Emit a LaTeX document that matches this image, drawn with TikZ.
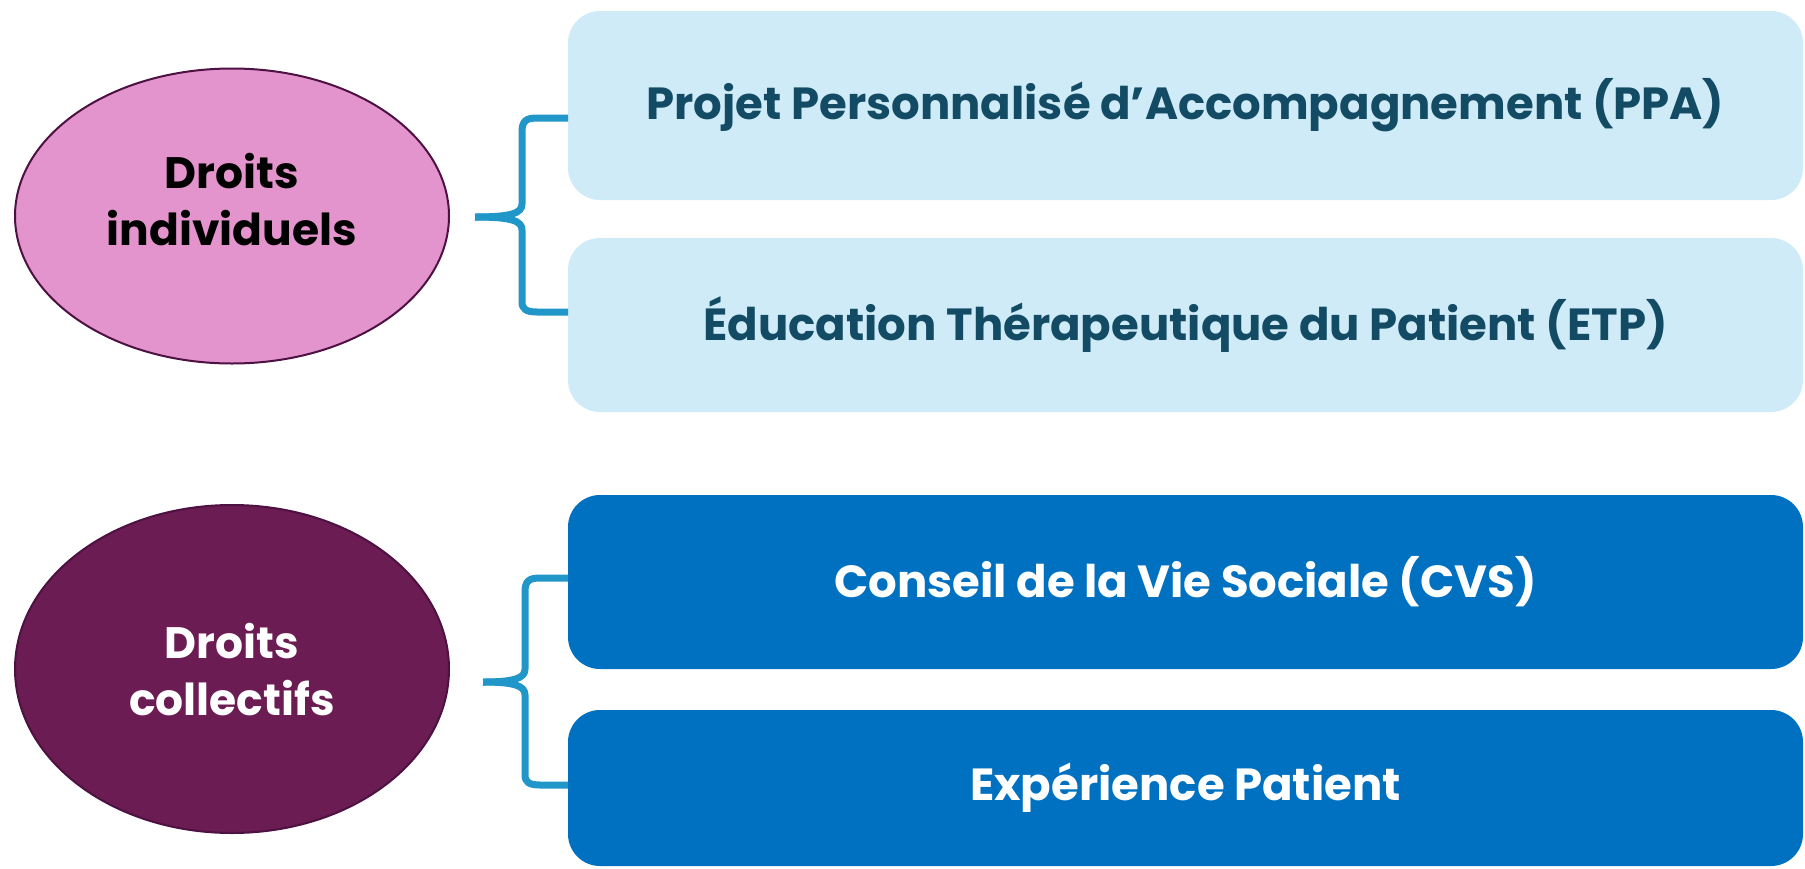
\documentclass[tikz,border=0pt]{standalone}
\usepackage{fontspec}
\setmainfont{Poppins}
\usetikzlibrary{shapes.geometric}
\definecolor{rose}{HTML}{E394CC}
\definecolor{prune}{HTML}{6B1C52}
\definecolor{bord}{HTML}{4D1142}
\definecolor{ciel}{HTML}{CFEBF7}
\definecolor{encre}{HTML}{134B65}
\definecolor{bleu}{HTML}{0070C0}
\definecolor{accol}{HTML}{2097C8}
\tikzset{
  droit/.style={ellipse,draw=bord,line width=2pt,minimum width=434pt,inner sep=0pt},
  titre/.style={align=center,font=\fontsize{44}{57}\selectfont\bfseries},
  volet/.style={rounded corners=32pt,minimum width=1235pt,inner sep=0pt,font=\fontsize{45}{58}\selectfont\bfseries},
  accolade/.style={draw=accol,line width=7pt,line join=round}
}

\begin{document}
\begin{tikzpicture}[x=1pt,y=-1pt]
      \useasboundingbox (0,0) rectangle (1805,868);
      \node[droit,fill=rose,minimum height=295pt](ind) at (232,216) {};
      \node[titre,text=black](indT) at (232,200) {Droits\\individuels};
      \node[droit,fill=prune,minimum height=328pt](col) at (232,669) {};
      \node[titre,text=white](colT) at (232,670) {Droits\\collectifs};
      \node[volet,fill=ciel,text=encre,minimum height=189pt](ppa) at (1185.5,105.5) {Projet Personnalisé d’Accompagnement (PPA)};
      \node[volet,fill=ciel,text=encre,minimum height=174pt](etp) at (1185.5,325) {Éducation Thérapeutique du Patient (ETP)};
      \node[volet,fill=bleu,text=white,minimum height=174pt](cvs) at (1185.5,582) {Conseil de la Vie Sociale (CVS)};
      \node[volet,fill=bleu,text=white,minimum height=156pt](exp) at (1185.5,788) {Expérience Patient};
      % accolades
      \coordinate(a1) at (568,118);
      \coordinate(p1) at (475,217);
      \coordinate(b1) at (568,312);
      \coordinate(a2) at (568,578);
      \coordinate(p2) at (483,682);
      \coordinate(b2) at (568,785);
      \draw[accolade] (a1) -- (537,118) .. controls (526,118) and (522,121) .. (522,132) -- (522,204)
            .. controls (522,213) and (512,217) .. (p1);
      \draw[accolade] (p1) .. controls (512,217) and (522,221) .. (522,230) -- (522,302)
            .. controls (522,309) and (526,312) .. (537,312) -- (b1);
      \draw[accolade] (a2) -- (540,578) .. controls (529,578) and (525,581) .. (525,592) -- (525,669)
            .. controls (525,678) and (515,682) .. (p2);
      \draw[accolade] (p2) .. controls (515,682) and (525,686) .. (525,695) -- (525,775)
            .. controls (525,782) and (529,785) .. (540,785) -- (b2);
    \end{tikzpicture}
\end{document}
